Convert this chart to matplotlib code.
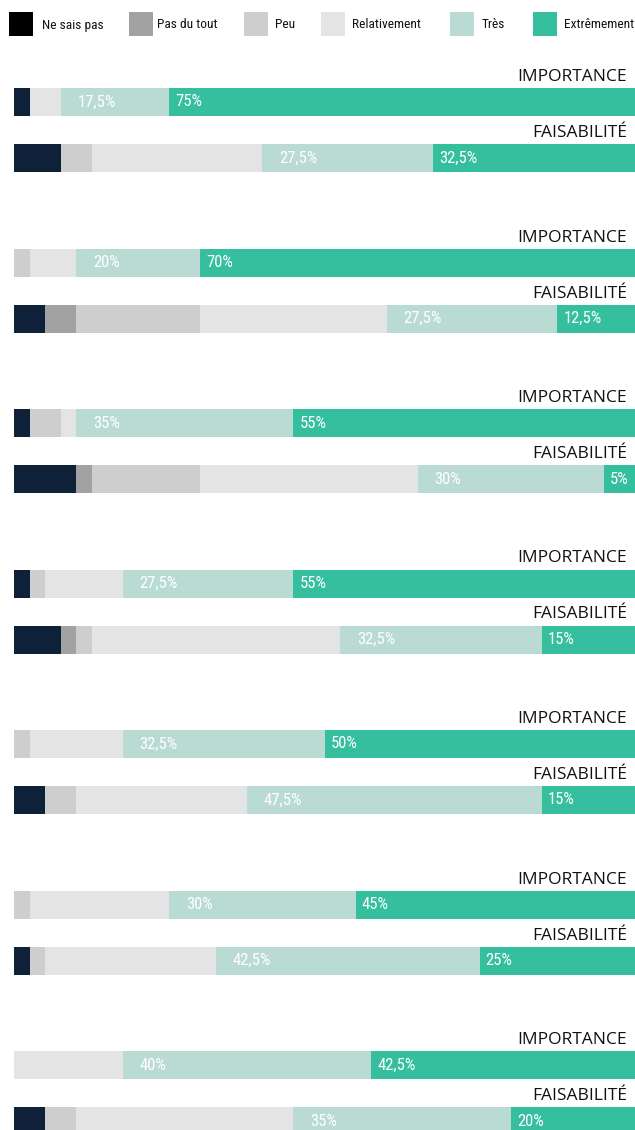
import matplotlib
matplotlib.use("Agg")
import matplotlib.pyplot as plt
from matplotlib import font_manager
from matplotlib.font_manager import FontProperties
from matplotlib.patches import Rectangle

# categories and colours
categories = ["Ne sais pas", "Pas du tout", "Peu", "Relativement", "Très", "Extrêmement"]
legend_colors = ["#000000", "#a2a2a2", "#cecece", "#e4e4e4", "#badbd4", "#35bf9f"]
bar_colors = ["#0e2139", "#a2a2a2", "#cecece", "#e4e4e4", "#badbd4", "#35bf9f"]

# one row per question, values in % per category
importance = [
    [2.5, 0, 0, 5, 17.5, 75],
    [0, 0, 2.5, 7.5, 20, 70],
    [2.5, 0, 5, 2.5, 35, 55],
    [2.5, 0, 2.5, 12.5, 27.5, 55],
    [0, 0, 2.5, 15, 32.5, 50],
    [0, 0, 2.5, 22.5, 30, 45],
    [0, 0, 0, 17.5, 40, 42.5],
]
faisabilite = [
    [7.5, 0, 5, 27.5, 27.5, 32.5],
    [5, 5, 20, 30, 27.5, 12.5],
    [10, 2.5, 17.5, 35, 30, 5],
    [7.5, 2.5, 2.5, 40, 32.5, 15],
    [5, 0, 5, 27.5, 47.5, 15],
    [2.5, 0, 2.5, 27.5, 42.5, 25],
    [5, 0, 5, 35, 35, 20],
]
row_labels = ["IMPORTANCE", "FAISABILITÉ"]


def condensed_font():
    # look for any installed narrow / condensed regular face
    cands = []
    for f in font_manager.fontManager.ttflist:
        st = str(f.stretch)
        narrow = ("ondensed" in st or "narrow" in f.name.lower()
                  or "ondensed" in f.name or "ondensed" in f.fname
                  or "Narrow" in f.fname)
        if narrow and f.style == "normal" and f.weight in (400, "normal", "regular"):
            cands.append(f)
    for pref in ["Roboto", "Open Sans", "Liberation", "Noto", "DejaVu"]:
        for f in cands:
            if pref in f.name:
                return FontProperties(fname=f.fname), True
    if cands:
        return FontProperties(fname=cands[0].fname), True
    return FontProperties(family="DejaVu Sans"), False


narrow_fp, found = condensed_font()
pct_size = 12 if found else 10
leg_size = 9.6 if found else 8.5

W, H = 635, 1130
fig = plt.figure(figsize=(W / 100, H / 100), dpi=100)
# bars run from x=14px to the right edge
ax = fig.add_axes([14 / W, 0, 1 - 14 / W, 1])
ax.set_xlim(0, 100)
ax.set_ylim(H, 0)
ax.axis("off")


def fmt(v):
    s = ("%g" % v).replace(".", ",")
    return s + "%"


bar_h = 28
for g in range(len(importance)):
    top = 88 + 160.5 * g
    for r, rows in enumerate([importance, faisabilite]):
        vals = rows[g]
        yc = top + r * 56 + bar_h / 2
        left = 0
        for k, v in enumerate(vals):
            if v > 0:
                ax.barh(yc, v, left=left, height=bar_h, color=bar_colors[k],
                        linewidth=0)
                if k >= 4:
                    off = 17 if k == 4 else 6
                    fp = narrow_fp.copy()
                    fp.set_size(pct_size)
                    ax.annotate(fmt(v), (left, yc), xytext=(off, 0),
                                textcoords="offset pixels", va="center",
                                ha="left", color="white", fontproperties=fp)
            left += v
        ax.annotate(row_labels[r], (100, yc - bar_h / 2), xytext=(-8, 3),
                    textcoords="offset pixels", va="bottom", ha="right",
                    color="#111111", fontsize=12.5, family="Open Sans")

# legend along the top
sq_x = [9, 129, 244, 321, 450, 533]
txt_x = [42, 157, 275, 352, 482, 564]
for k, name in enumerate(categories):
    fig.patches.append(Rectangle((sq_x[k] / W, 1 - 36 / H), 24 / W, 24 / H,
                                 transform=fig.transFigure,
                                 color=legend_colors[k], linewidth=0))
    fp = narrow_fp.copy()
    fp.set_size(leg_size)
    fig.text(txt_x[k] / W, 1 - 25 / H, name, va="center", ha="left",
             fontproperties=fp, color="#111111")

fig.savefig("out.png", dpi=100)
